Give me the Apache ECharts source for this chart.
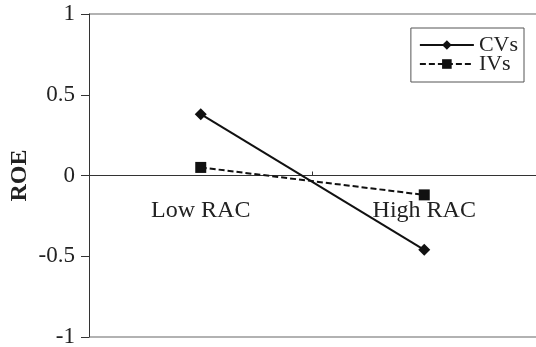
<!DOCTYPE html>
<html>
<head>
<meta charset="utf-8">
<script src="https://cdn.jsdelivr.net/npm/echarts@6/dist/echarts.min.js"></script>
<style>
html,body{margin:0;padding:0;background:#fff;}
#chart{width:536px;height:347px;}
</style>
</head>
<body>
<div id="chart"></div>
<script>
var categories = ['Low RAC', 'High RAC'];
var cvsValues = [0.38, -0.46];
var ivsValues = [0.05, -0.12];
var seriesNames = ['CVs', 'IVs'];
var yTicks = {min: -1, max: 1, interval: 0.5};
var yAxisTitle = 'ROE';

var serif = '"Liberation Serif", "Times New Roman", serif';
var chart = echarts.init(document.getElementById('chart'), null, {renderer: 'canvas'});
chart.setOption({
  animation: false,
  backgroundColor: '#fff',
  grid: {left: 89, right: 0, top: 14, bottom: 10, containLabel: false, outerBoundsMode: 'none'},
  legend: {
    orient: 'vertical',
    right: 12,
    top: 28,
    padding: [6, 6, 7, 8],
    borderColor: '#555',
    borderWidth: 1,
    itemWidth: 54,
    itemHeight: 12,
    itemGap: -3,
    textStyle: {fontFamily: serif, fontSize: 22, color: '#222'},
    data: seriesNames
  },
  xAxis: {
    type: 'category',
    data: categories,
    boundaryGap: true,
    position: 'bottom',
    offset: -161.5,
    axisLine: {onZero: false, lineStyle: {color: '#333', width: 1}},
    axisTick: {show: true, inside: true, length: 4, lineStyle: {color: '#333'}},
    axisLabel: {fontFamily: serif, fontSize: 24, color: '#222', margin: 23},
    splitLine: {show: false}
  },
  yAxis: {
    type: 'value',
    min: yTicks.min,
    max: yTicks.max,
    interval: yTicks.interval,
    name: yAxisTitle,
    nameLocation: 'middle',
    nameRotate: 90,
    nameGap: 57,
    nameMoveOverlap: false,
    nameTextStyle: {fontFamily: serif, fontSize: 24, fontWeight: 'bold', color: '#222'},
    axisLine: {show: true, lineStyle: {color: '#333', width: 1}},
    axisTick: {show: true, inside: false, length: 8, lineStyle: {color: '#333'}},
    axisLabel: {fontFamily: serif, fontSize: 23, color: '#222', margin: 14,
      formatter: function (v) { return String(v); }},
    splitLine: {show: true, lineStyle: {color: ['#999', 'rgba(0,0,0,0)', 'rgba(0,0,0,0)', 'rgba(0,0,0,0)', '#999'], width: 1.5}}
  },
  series: [
    {
      name: seriesNames[0],
      type: 'line',
      data: cvsValues,
      symbol: 'diamond',
      symbolSize: 12,
      itemStyle: {color: '#111'},
      lineStyle: {color: '#111', width: 2, type: 'solid'}
    },
    {
      name: seriesNames[1],
      type: 'line',
      data: ivsValues,
      symbol: 'rect',
      symbolSize: 11,
      itemStyle: {color: '#111'},
      lineStyle: {color: '#111', width: 2, type: [6, 3]}
    }
  ]
});
</script>
</body>
</html>
